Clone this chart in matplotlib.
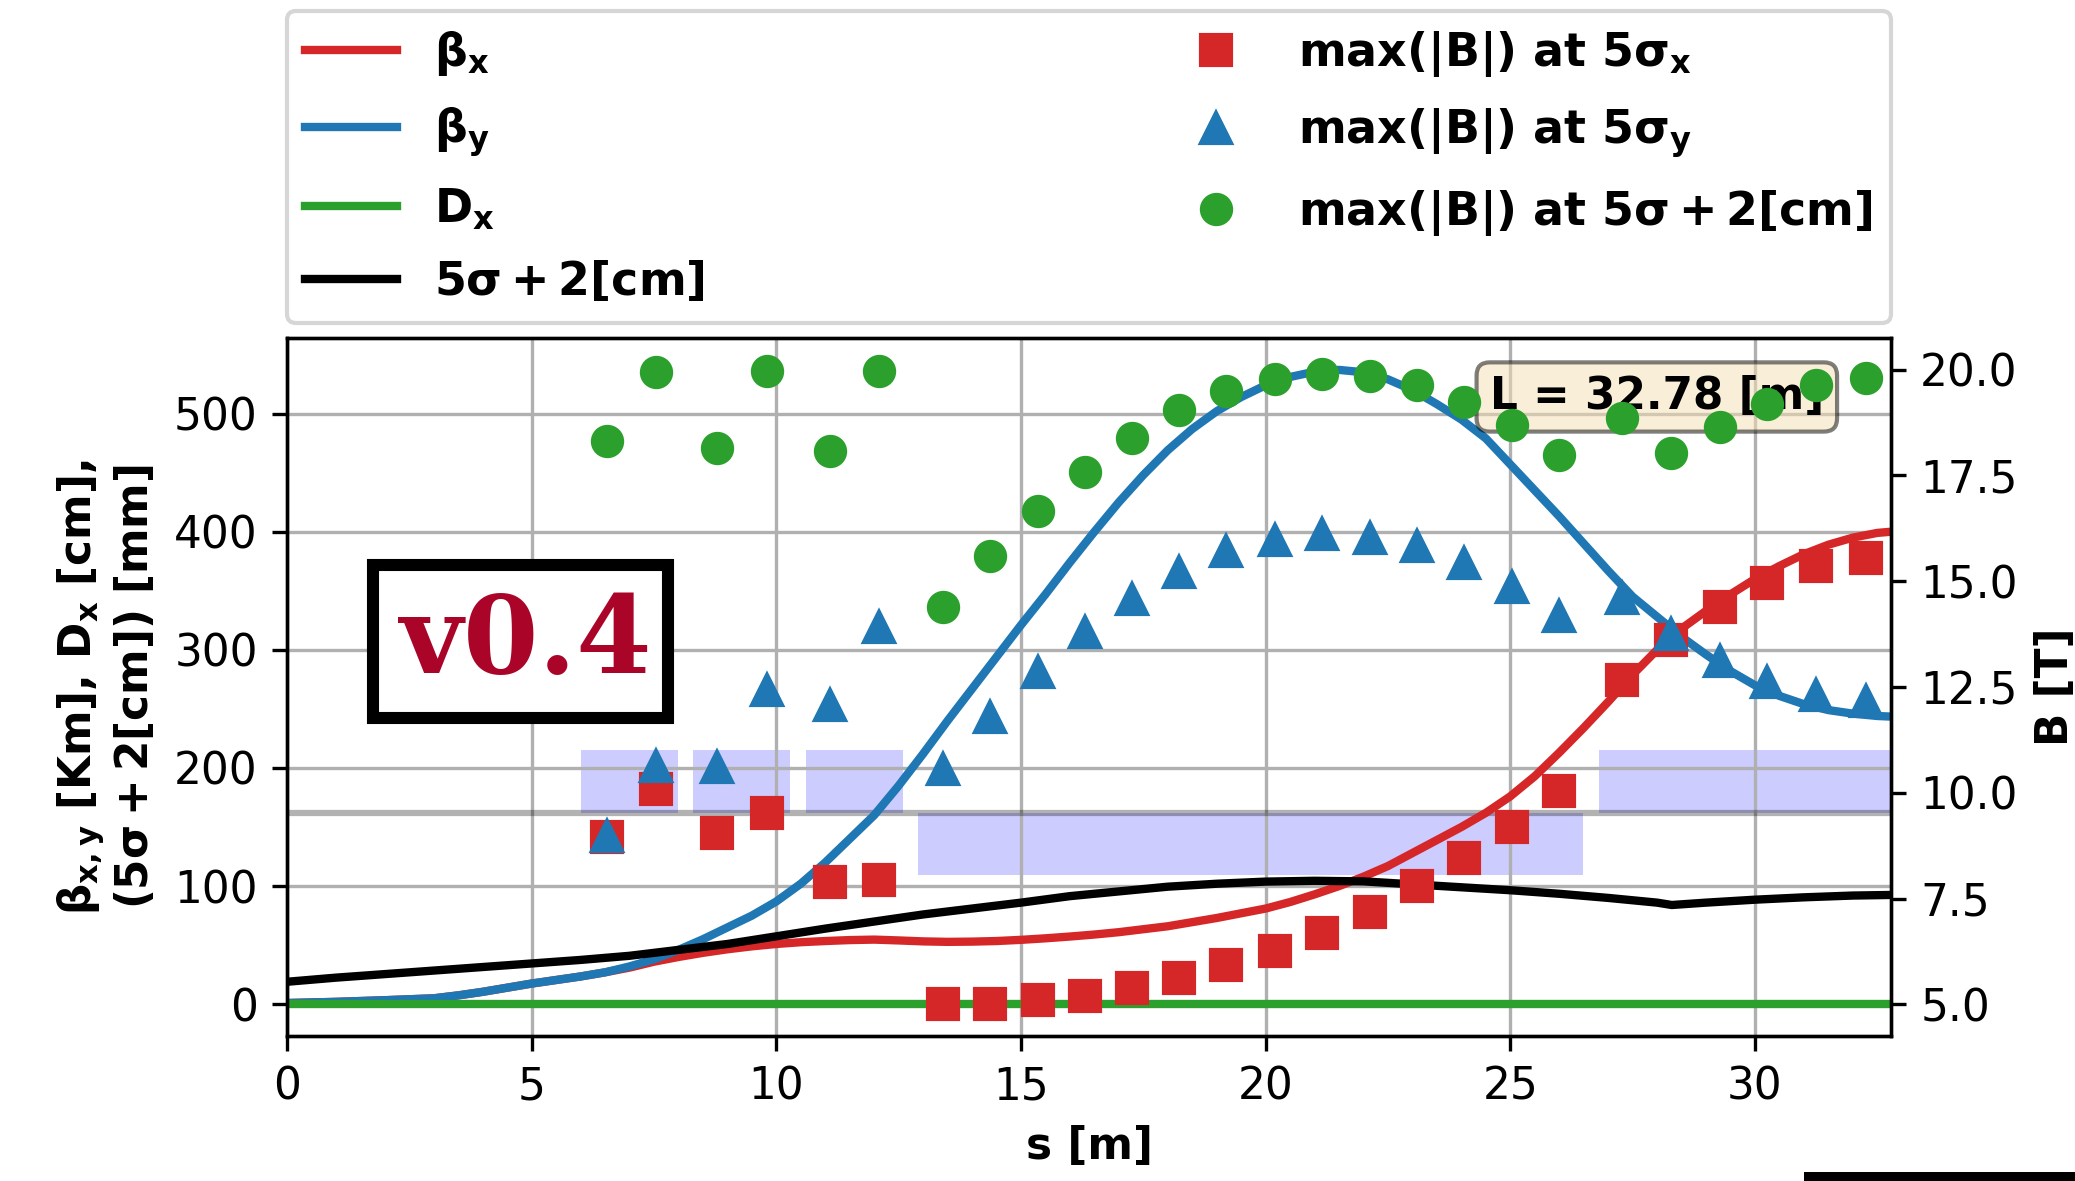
import matplotlib
matplotlib.use("Agg")
import matplotlib.pyplot as plt
from matplotlib.patches import Rectangle

plt.rcParams["mathtext.default"] = "bf"
plt.rcParams["font.size"] = 10.5

# ---- optics along the line ----
s_opt = [0, 0.5, 1, 1.5, 2, 2.5, 3, 3.5, 4, 4.5, 5, 5.5, 6, 6.5, 7, 7.5, 8, 8.5,
         9, 9.5, 10, 10.5, 11, 11.5, 12, 12.5, 13, 13.5, 14, 14.5, 15, 15.5, 16,
         16.5, 17, 17.5, 18, 18.5, 19, 19.5, 20, 20.5, 21, 21.5, 22, 22.5, 23,
         23.5, 24, 24.5, 25, 25.5, 26, 26.5, 27, 27.5, 28, 28.5, 29, 29.5, 30,
         30.5, 31, 31.5, 32, 32.5, 32.78]
beta_x = [1, 1.5, 2, 2.7, 3.4, 4.2, 5, 7.5, 10.5, 14, 17.5, 20.5, 23.5, 27, 31,
          36, 40, 43.5, 46.5, 49, 51, 52.5, 53.5, 54.3, 54.7, 54, 53.2, 52.8, 53,
          53.5, 54.5, 55.8, 57.3, 59, 61, 63.5, 66, 69.5, 73, 77, 81, 86.5, 93,
          100, 108, 117, 128, 139, 150, 162, 176, 193, 213, 234, 256, 279, 300,
          318, 333, 347, 360, 371, 381, 389, 395, 399, 400]
beta_y = [1, 1.5, 2, 2.7, 3.4, 4.2, 5, 7.5, 10.5, 14, 17.5, 20.5, 23.5, 27, 32,
          38, 46, 55, 65, 75, 87, 102, 120, 140, 160, 185, 212, 240, 267, 294,
          321, 347, 374, 400, 425, 448, 469, 487, 502, 514, 524, 531, 535.5, 537,
          535, 529, 520, 508, 495, 479, 457, 435, 413, 390, 367, 345, 328, 311,
          296, 282, 270, 261, 254, 249, 246, 244, 243.5]

s_disp = [0.0, 32.78]
disp_x = [0.0, 0.0]

s_env = [0, 1, 2, 3, 4, 5, 6, 7, 8, 9, 10, 11, 12, 13, 14, 15, 16, 17, 18, 19,
         20, 21, 22, 23, 24, 25, 26, 27, 28, 28.3, 29, 30, 31, 32, 32.78]
env = [19, 22.5, 25.5, 28.5, 31.5, 34.5, 37.5, 41, 46, 51, 57.5, 64, 70, 76, 81,
       86, 91.5, 95.5, 99.5, 102, 103.8, 104.5, 104, 101.5, 99, 96.5, 93.5, 90,
       86, 84, 86, 88.5, 90.5, 92, 92.5]

# ---- peak field in each magnet ----
s_mag = [6.53, 7.54, 8.79, 9.80, 11.09, 12.10, 13.40, 14.37, 15.34, 16.31,
         17.27, 18.23, 19.19, 20.19, 21.16, 22.13, 23.09, 24.06, 25.03, 26.00,
         27.28, 28.29, 29.29, 30.25, 31.25, 32.26]
bmax_x = [8.96, 10.08, 9.05, 9.51, 7.90, 7.93, 5.00, 5.00, 5.10, 5.19, 5.39,
          5.61, 5.93, 6.26, 6.69, 7.19, 7.79, 8.46, 9.18, 10.04, 12.66, 13.61,
          14.38, 14.96, 15.35, 15.54]
bmax_y = [8.97, 10.64, 10.62, 12.44, 12.07, 13.91, 10.57, 11.79, 12.86, 13.79,
          14.58, 15.23, 15.71, 15.98, 16.11, 16.02, 15.84, 15.42, 14.87, 14.18,
          14.61, 13.75, 13.11, 12.63, 12.32, 12.16]
bmax_env = [18.32, 19.94, 18.14, 19.96, 18.07, 19.96, 14.38, 15.59, 16.66,
            17.59, 18.38, 19.04, 19.49, 19.77, 19.91, 19.86, 19.65, 19.23, 18.70,
            17.99, 18.86, 18.02, 18.65, 19.20, 19.63, 19.80]

# ---- magnet layout blocks (above baseline: quads, below: dipoles) ----
block_start = [6.0, 8.3, 10.6, 12.9, 26.82]
block_end = [8.0, 10.28, 12.58, 26.48, 32.78]
block_side = [1, 1, 1, -1, 1]
baseline = 162
block_height = 53
L_total = 32.78

W, H = 2075, 1181
fig = plt.figure(figsize=(W / 300, H / 300), dpi=300)
ax = fig.add_axes([287 / W, 1 - 1036 / H, 1604 / W, 698 / H])
ax2 = ax.twinx()

for a, b, side in zip(block_start, block_end, block_side):
    ax.add_patch(Rectangle((a, baseline), b - a, side * block_height,
                           facecolor="blue", alpha=0.2, edgecolor="none", zorder=1))
ax.axhline(baseline, color="k", alpha=0.3, lw=1.5, zorder=1.6)

l1, = ax.plot(s_opt, beta_x, color="tab:red", lw=2, label=r"$\beta_x$")
l2, = ax.plot(s_opt, beta_y, color="tab:blue", lw=2, label=r"$\beta_y$")
l3, = ax.plot(s_disp, disp_x, color="tab:green", lw=2, label=r"$D_x$")
l4, = ax.plot(s_env, env, color="k", lw=2, label=r"$5\sigma + 2[cm]$")

m1, = ax2.plot(s_mag, bmax_x, "s", color="tab:red", ms=7,
               label=r"max(|B|) at $5\sigma_x$")
m2, = ax2.plot(s_mag, bmax_y, "^", color="tab:blue", ms=7,
               label=r"max(|B|) at $5\sigma_y$")
m3, = ax2.plot(s_mag, bmax_env, "o", color="tab:green", ms=7,
               label=r"max(|B|) at $5\sigma + 2[cm]$")

ax.set_xlim(0, L_total)
ax.set_ylim(-26.9, 564)
ax2.set_ylim(4.25, 20.75)
ax.grid(True)

ax.set_xlabel("s [m]", fontweight="bold")
ax.set_ylabel(r"$\beta_{x,y}$ [Km], $D_x$ [cm]," "\n" r"($5\sigma + 2[cm]$) [mm]",
              fontweight="bold")
ax2.set_ylabel("B [T]", fontweight="bold")

ax.text(0.854, 0.9155, f"L = {L_total:.2f} [m]", transform=ax.transAxes,
        ha="center", va="center", fontweight="bold", fontsize=10.5,
        bbox=dict(boxstyle="round", facecolor="wheat", alpha=0.5))

handles = [l1, l2, l3, l4, m1, m2, m3]
ax.legend(handles, [h.get_label() for h in handles], loc="lower left",
          bbox_to_anchor=(0, 1.0215, 1, 0.3), mode="expand", ncol=2,
          borderaxespad=0, prop={"weight": "bold", "size": 11},
          handlelength=2.0, labelspacing=0.6)

# version stamp
fig.add_artist(Rectangle((373 / W, 1 - 718 / H), 295 / W, 153 / H,
                         transform=fig.transFigure, facecolor="white",
                         edgecolor="black", lw=2.9, zorder=5))
fig.text(526 / W, 1 - 673 / H, "v0.4", ha="center", va="baseline",
         family="DejaVu Serif", fontweight="bold", fontsize=26,
         color="#aa0529", zorder=6)

# strip at the lower right edge
fig.add_artist(Rectangle((1804 / W, 0), 1 - 1804 / W, 9 / H,
                         transform=fig.transFigure, facecolor="black",
                         edgecolor="none", zorder=5))

fig.savefig("out.png", dpi=300)
